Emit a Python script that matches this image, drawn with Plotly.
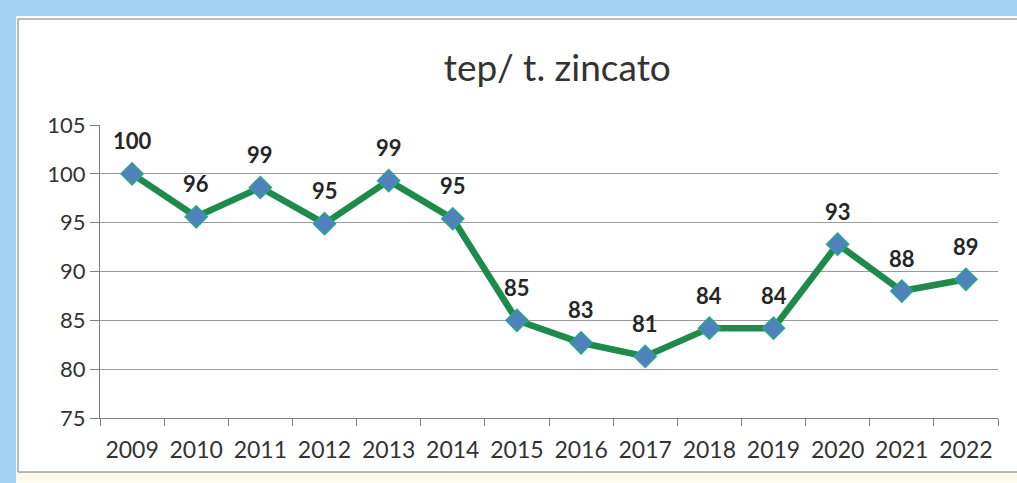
import plotly.graph_objects as go

years = ["2009", "2010", "2011", "2012", "2013", "2014", "2015",
         "2016", "2017", "2018", "2019", "2020", "2021", "2022"]
values = [100.0, 95.6, 98.6, 94.9, 99.3, 95.4, 85.0,
          82.7, 81.3, 84.2, 84.2, 92.8, 88.0, 89.2]
y_ticks = [75, 80, 85, 90, 95, 100, 105]
title_text = "tep/ t. zincato"

FONT = "Lato, 'Open Sans', sans-serif"

fig = go.Figure()
fig.add_trace(go.Scatter(
    x=years, y=values, mode="lines+markers",
    line=dict(color="#1E8A4C", width=6.5),
    marker=dict(symbol="diamond", size=17, color="#4F81BD",
                line=dict(color="#2BA58A", width=1.5)),
    hoverinfo="x+y", showlegend=False,
))

for i, v in enumerate(values):
    fig.add_annotation(x=i, y=v, xref="x", yref="y", text=f"{v:.0f}",
                       showarrow=False, yshift=33,
                       font=dict(family=FONT, size=22, color="#262626",
                                 weight="bold"))

L, R, T, B = 100, 19, 125, 65
W, H = 1017 - L - R, 483 - T - B

def px(x):
    return (x - L) / W

def py(y):
    return (483 - B - y) / H

shapes = [
    dict(type="rect", xref="paper", yref="paper", layer="below",
         x0=px(0), x1=px(1017), y0=py(483), y1=py(472),
         fillcolor="#FCFAEA", line=dict(width=0)),
    dict(type="rect", xref="paper", yref="paper", layer="below",
         x0=px(0), x1=px(16), y0=py(483), y1=py(0),
         fillcolor="#A3D2F2", line=dict(width=0)),
    dict(type="rect", xref="paper", yref="paper", layer="below",
         x0=px(0), x1=px(1017), y0=py(16), y1=py(0),
         fillcolor="#A3D2F2", line=dict(width=0)),
    dict(type="rect", xref="paper", yref="paper", layer="below",
         x0=px(18), x1=px(1030), y0=py(472), y1=py(19),
         fillcolor="rgba(0,0,0,0)", line=dict(color="#6b7b86", width=1)),
]

fig.update_layout(
    width=1017, height=483,
    margin=dict(l=L, r=R, t=T, b=B),
    paper_bgcolor="white", plot_bgcolor="white",
    title=dict(text=title_text, x=0.548, xanchor="center", y=1 - 68 / 483,
               yref="container", yanchor="middle",
               font=dict(family=FONT, size=37, color="#333333")),
    shapes=shapes,
    font=dict(family=FONT),
)
fig.update_xaxes(
    type="category", range=[-0.5, len(years) - 0.5], autorange=False,
    tickson="boundaries", ticks="outside", ticklen=7,
    tickcolor="#808080", showline=True, linecolor="#808080", linewidth=1,
    showgrid=False, tickfont=dict(family=FONT, size=23, color="#333333"),
    ticklabelstandoff=11, tickangle=0,
)
fig.update_yaxes(
    range=[75, 105], tickvals=y_ticks, ticks="outside", ticklen=9,
    tickcolor="#808080", showline=True, linecolor="#808080", linewidth=1,
    showgrid=True, gridcolor="#9a9a9a", gridwidth=1, zeroline=False,
    tickfont=dict(family=FONT, size=22, color="#333333"),
)

fig.write_html("out.html",
               config={"displayModeBar": False},
               post_script="document.body.style.margin='0';"
                           "document.body.style.overflow='hidden';")
